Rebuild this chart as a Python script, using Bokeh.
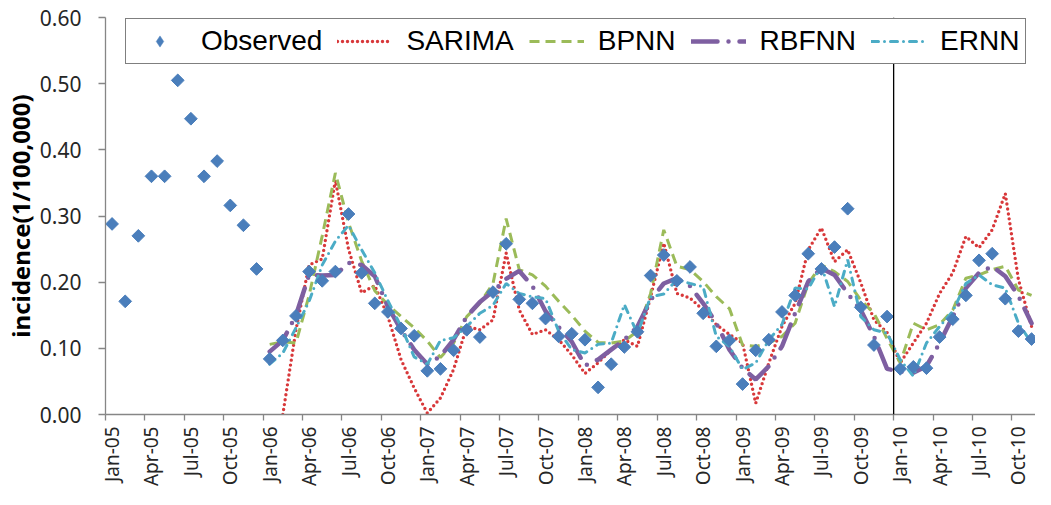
import math
from bokeh.plotting import figure
from bokeh.models import (Range1d, FixedTicker, NumeralTickFormatter, Span,
                          Legend, LegendItem, ColumnDataSource)
from bokeh.embed import file_html
from bokeh.resources import INLINE

# ---------------- data ----------------
tick_labels = ["Jan-05", "Apr-05", "Jul-05", "Oct-05",
               "Jan-06", "Apr-06", "Jul-06", "Oct-06",
               "Jan-07", "Apr-07", "Jul-07", "Oct-07",
               "Jan-08", "Apr-08", "Jul-08", "Oct-08",
               "Jan-09", "Apr-09", "Jul-09", "Oct-09",
               "Jan-10", "Apr-10", "Jul-10", "Oct-10"]

# monthly, starting Jan-05
observed = [0.288, 0.171, 0.270, 0.360, 0.360, 0.505, 0.447, 0.360, 0.383, 0.316, 0.286, 0.220,
            0.084, 0.112, 0.149, 0.216, 0.202, 0.216, 0.303, 0.214, 0.168, 0.155, 0.130, 0.119,
            0.066, 0.069, 0.097, 0.128, 0.117, 0.185, 0.258, 0.174, 0.168, 0.145, 0.118, 0.122,
            0.113, 0.041, 0.076, 0.102, 0.125, 0.210, 0.241, 0.202, 0.223, 0.153, 0.103, 0.112,
            0.046, 0.097, 0.113, 0.155, 0.180, 0.243, 0.220, 0.253, 0.311, 0.162, 0.105, 0.148,
            0.069, 0.072, 0.070, 0.117, 0.144, 0.180, 0.233, 0.243, 0.175, 0.126, 0.114]

# model series, starting Feb-06 (SARIMA) / Jan-06 (others)
sarima_start = 13
sarima = [0.000, 0.128, 0.226, 0.235, 0.354, 0.250, 0.184, 0.195, 0.148, 0.083, 0.040,
          0.002, 0.025, 0.068, 0.133, 0.128, 0.143, 0.244, 0.158, 0.121, 0.128, 0.113, 0.090,
          0.062, 0.078, 0.098, 0.113, 0.103, 0.178, 0.259, 0.183, 0.176, 0.158, 0.136, 0.121,
          0.108, 0.017, 0.078, 0.133, 0.168, 0.249, 0.282, 0.231, 0.249, 0.199, 0.143, 0.124,
          0.078, 0.108, 0.138, 0.183, 0.214, 0.269, 0.252, 0.279, 0.334, 0.204, 0.133]

nn_start = 12
bpnn = [0.106, 0.110, 0.108, 0.180, 0.270, 0.365, 0.290, 0.232, 0.187, 0.166, 0.148, 0.131,
        0.111, 0.086, 0.108, 0.148, 0.168, 0.198, 0.296, 0.219, 0.211, 0.194, 0.171, 0.150,
        0.126, 0.109, 0.108, 0.111, 0.126, 0.183, 0.279, 0.224, 0.219, 0.201, 0.178, 0.160,
        0.105, 0.103, 0.108, 0.118, 0.138, 0.198, 0.226, 0.216, 0.201, 0.173, 0.153, 0.115,
        0.078, 0.138, 0.128, 0.136, 0.158, 0.206, 0.211, 0.219, 0.224, 0.188, 0.180]

rbfnn = [0.095, 0.112, 0.150, 0.211, 0.210, 0.211, 0.229, 0.226, 0.209, 0.163, 0.128, 0.098,
         0.076, 0.088, 0.113, 0.148, 0.170, 0.186, 0.205, 0.217, 0.194, 0.156, 0.132, 0.110,
         0.074, 0.083, 0.098, 0.113, 0.133, 0.173, 0.198, 0.206, 0.194, 0.168, 0.138, 0.098,
         0.070, 0.053, 0.073, 0.103, 0.153, 0.201, 0.221, 0.211, 0.183, 0.158, 0.118, 0.069,
         0.065, 0.063, 0.073, 0.108, 0.148, 0.191, 0.214, 0.224, 0.209, 0.179, 0.138]

ernn = [0.076, 0.093, 0.131, 0.171, 0.226, 0.262, 0.286, 0.249, 0.214, 0.172, 0.133, 0.087,
        0.076, 0.112, 0.116, 0.133, 0.153, 0.165, 0.198, 0.183, 0.178, 0.175, 0.126, 0.098,
        0.093, 0.106, 0.108, 0.166, 0.122, 0.178, 0.182, 0.204, 0.198, 0.193, 0.118, 0.103,
        0.068, 0.078, 0.113, 0.136, 0.191, 0.190, 0.225, 0.163, 0.234, 0.148, 0.128, 0.123,
        0.083, 0.058, 0.108, 0.133, 0.156, 0.198, 0.211, 0.196, 0.191, 0.138, 0.108]

split_month = 60  # Jan-10 : start of the test period

OBS_COLOR = "#4A7EBB"

# ---------------- figure ----------------
p = figure(width=1035, height=489, output_backend="svg", toolbar_location=None,
           x_range=Range1d(-0.5, 70.3), y_range=Range1d(0, 0.6),
           min_border_left=102, min_border_right=0, min_border_top=17,
           min_border_bottom=74)
p.outline_line_color = None
p.xgrid.visible = False
p.ygrid.visible = False

def xs(start, n):
    return list(range(start, start + n))

r_sar = p.line(xs(sarima_start, len(sarima)), sarima, line_color="#D8383A",
               line_width=3.4, line_dash="0 5", line_cap="round")
r_bp = p.line(xs(nn_start, len(bpnn)), bpnn, line_color="#9BBB59",
              line_width=3, line_dash="10 6")
r_rb = p.line(xs(nn_start, len(rbfnn)), rbfnn, line_color="#7E5FA1",
              line_width=4.5, line_dash="26 11 0 11", line_cap="round")
r_er = p.line(xs(nn_start, len(ernn)), ernn, line_color="#4BACC6",
              line_width=3, line_dash="7 6 0 6", line_cap="round")

obs_src = ColumnDataSource(data=dict(x=xs(0, len(observed)), y=observed))
# diamond-shaped legend icon glyph; on the plot it lies fully under the markers below
r_obs_leg = p.scatter("x", "y", source=obs_src, marker="diamond", size=11,
                      fill_color=OBS_COLOR, line_color=OBS_COLOR, line_width=0.5)
p.scatter("x", "y", source=obs_src, marker="square", angle=math.pi / 4,
          size=9, fill_color=OBS_COLOR, line_color=OBS_COLOR)

# x axis: labels at month centres, tick marks at quarter boundaries
label_pos = [3 * k for k in range(len(tick_labels))]
xa = p.xaxis[0]
xa.ticker = FixedTicker(ticks=label_pos, minor_ticks=[v - 0.5 for v in label_pos])
xa.major_label_overrides = {pos: lab for pos, lab in zip(label_pos, tick_labels)}
xa.major_label_orientation = math.pi / 2
xa.major_tick_out = 0
xa.major_tick_in = 0
xa.minor_tick_out = 6
xa.minor_tick_in = 0
xa.minor_tick_line_color = "#868686"
xa.minor_tick_line_width = 1.3
xa.axis_line_color = "#868686"
xa.axis_line_width = 1.3
xa.major_label_standoff = 6
xa.major_label_text_font = "Noto Sans"
xa.major_label_text_font_size = "19px"
xa.major_label_text_color = "#262626"

ya = p.yaxis[0]
ya.ticker = FixedTicker(ticks=[0.0, 0.1, 0.2, 0.3, 0.4, 0.5, 0.6], minor_ticks=[])
ya.formatter = NumeralTickFormatter(format="0.00")
ya.major_tick_out = 7
ya.major_tick_in = 0
ya.minor_tick_out = 0
ya.major_tick_line_color = "#868686"
ya.major_tick_line_width = 1.3
ya.axis_line_color = "#868686"
ya.axis_line_width = 1.3
ya.major_label_standoff = 17
ya.major_label_text_font = "Noto Sans"
ya.major_label_text_font_size = "21px"
ya.major_label_text_color = "#262626"
ya.axis_label = "incidence(1/100,000)"
ya.axis_label_text_font = "Noto Sans"
ya.axis_label_text_font_style = "bold"
ya.axis_label_text_font_size = "24px"
ya.axis_label_text_color = "black"
ya.axis_label_standoff = 0

p.add_layout(Span(location=split_month - 0.5, dimension="height",
                  line_color="black", line_width=1.3))

legend = Legend(items=[LegendItem(label="Observed", renderers=[r_obs_leg]),
                       LegendItem(label="SARIMA", renderers=[r_sar]),
                       LegendItem(label="BPNN", renderers=[r_bp]),
                       LegendItem(label="RBFNN", renderers=[r_rb]),
                       LegendItem(label="ERNN", renderers=[r_er])],
                location=(20, 350), orientation="horizontal",
                label_text_font="Liberation Sans", label_text_font_size="28px",
                label_text_color="black", glyph_width=55, glyph_height=28,
                label_height=28,
                label_standoff=14, spacing=15, padding=6, margin=0,
                border_line_color="black", border_line_width=1.5,
                background_fill_color="white", background_fill_alpha=1.0)
p.add_layout(legend)

open("out.html", "w").write(file_html(p, INLINE))
